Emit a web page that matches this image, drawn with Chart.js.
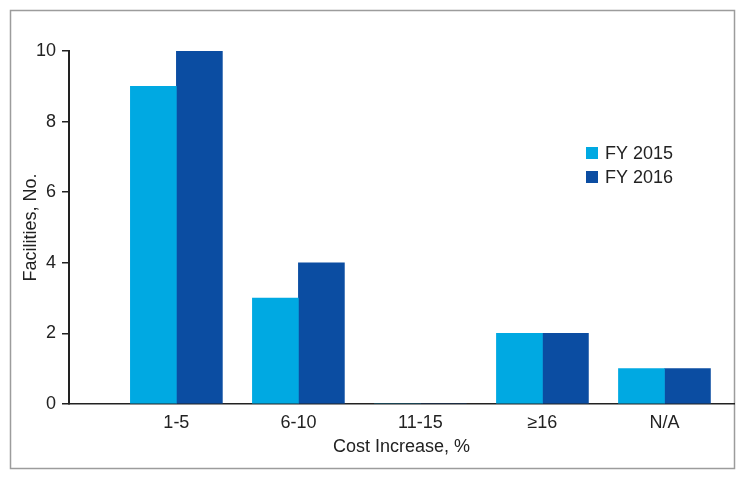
<!DOCTYPE html>
<html>
<head>
<meta charset="utf-8">
<script src="https://cdn.jsdelivr.net/npm/chart.js@4/dist/chart.umd.min.js"></script>
<style>
  html, body { margin: 0; padding: 0; background: #fff; }
  #wrap { position: absolute; left: 0; top: 0; width: 745px; height: 480px; }
</style>
</head>
<body>
<div id="wrap"><canvas id="myChart"></canvas></div>
<script>
// cost increase buckets and facility counts
var categories = ["1-5", "6-10", "11-15", "\u226516", "N/A"];
var fy2015 = [9, 3, 0, 2, 1];
var fy2016 = [10, 4, 0, 2, 1];
var seriesNames = ["FY 2015", "FY 2016"];
var yTicks = [0, 2, 4, 6, 8, 10];

var barColors = ["#00a9e2", "#0b4da2"];
var fontFamily = "'Liberation Sans', Arial, sans-serif";

function toPoints(values) {
  return values.map(function (v, i) { return { x: i + 1, y: v }; });
}

// outer frame around the whole figure
var framePlugin = {
  id: "frame",
  beforeDraw: function (chart) {
    var ctx = chart.ctx;
    ctx.save();
    ctx.strokeStyle = "#9c9c9c";
    ctx.lineWidth = 1.5;
    ctx.strokeRect(10.5, 10.5, 724, 458);
    ctx.restore();
  }
};

// legend drawn inside the plot area, upper right
var legendPlugin = {
  id: "innerLegend",
  afterDraw: function (chart) {
    var ctx = chart.ctx;
    var area = chart.chartArea;
    var x = area.right - 148;
    var y = area.top + 102;
    ctx.save();
    ctx.font = "18px " + fontFamily;
    ctx.textBaseline = "middle";
    chart.data.datasets.forEach(function (ds, i) {
      var cy = y + i * 24;
      ctx.fillStyle = ds.backgroundColor;
      ctx.fillRect(x, cy - 6, 12, 12);
      ctx.fillStyle = "#222";
      ctx.fillText(ds.label, x + 19, cy + 1);
    });
    ctx.restore();
  }
};

new Chart("myChart", {
  type: "bar",
  data: {
    datasets: [
      { label: seriesNames[0], data: toPoints(fy2015), backgroundColor: barColors[0] },
      { label: seriesNames[1], data: toPoints(fy2016), backgroundColor: barColors[1] }
    ]
  },
  plugins: [framePlugin, legendPlugin],
  options: {
    responsive: true,
    maintainAspectRatio: false,
    animation: false,
    layout: { padding: { top: 51, right: 11, left: 0, bottom: 0 } },
    datasets: { bar: { barThickness: 46, borderWidth: 0 } },
    plugins: { legend: { display: false }, tooltip: { enabled: false } },
    scales: {
      x: {
        type: "linear",
        offset: false,
        min: 0.12,
        max: 5.57,
        afterBuildTicks: function (scale) {
          scale.ticks = categories.map(function (c, i) { return { value: i + 1 }; });
        },
        afterFit: function (scale) { scale.height = 76; },
        grid: { display: false, drawTicks: false },
        border: { display: true, color: "#222", width: 1.5 },
        ticks: {
          color: "#222",
          padding: 8,
          maxRotation: 0,
          autoSkip: false,
          font: { family: fontFamily, size: 18 },
          callback: function (v) { return categories[v - 1]; }
        },
        title: {
          display: true,
          text: "Cost Increase, %",
          color: "#222",
          padding: { top: 22, bottom: 22 },
          font: { family: fontFamily, size: 18 }
        }
      },
      y: {
        min: 0,
        max: 10,
        afterBuildTicks: function (scale) {
          scale.ticks = yTicks.map(function (v) { return { value: v }; });
        },
        afterFit: function (scale) { scale.width = 69; },
        grid: { drawOnChartArea: false, drawTicks: true, tickLength: 7, color: "#222", lineWidth: 1.5 },
        border: { display: true, color: "#222", width: 2 },
        ticks: {
          color: "#222",
          padding: 6,
          font: { family: fontFamily, size: 18 }
        },
        title: {
          display: true,
          text: "Facilities, No.",
          color: "#222",
          padding: { top: 20, bottom: 20 },
          font: { family: fontFamily, size: 18 }
        }
      }
    }
  }
});
</script>
</body>
</html>
